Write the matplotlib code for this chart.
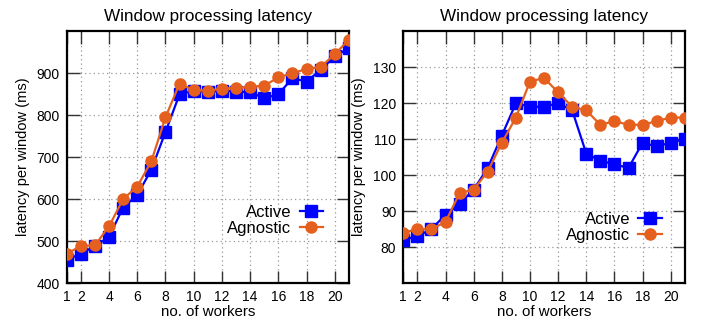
import matplotlib
matplotlib.use("Agg")
import matplotlib.pyplot as plt

plt.rcParams['font.family'] = ['Liberation Sans', 'DejaVu Sans']

workers = list(range(1, 22))
x_ticks = [1, 2, 4, 6, 8, 10, 12, 14, 16, 18, 20]

left_active = [455, 470, 488, 510, 580, 610, 670, 760, 850, 858, 855, 858, 856, 855, 840, 850, 888, 880, 908, 940, 960]
left_agnostic = [470, 488, 490, 535, 600, 630, 690, 795, 875, 860, 858, 863, 865, 868, 870, 890, 900, 910, 915, 945, 980]

right_active = [82, 83, 85, 89, 92, 96, 102, 111, 120, 119, 119, 120, 118, 106, 104, 103, 102, 109, 108, 109, 110]
right_agnostic = [84, 85, 85, 87, 95, 96, 101, 109, 116, 126, 127, 123, 119, 118, 114, 115, 114, 114, 115, 116, 116]

left_yticks = [400, 500, 600, 700, 800, 900]
right_yticks = [80, 90, 100, 110, 120, 130]

title = "Window processing latency"
xlabel = "no. of workers"
ylabel = "latency per window (ms)"

BLUE = "#0000ff"
ORANGE = "#e5601e"

fig = plt.figure(figsize=(7.02, 3.25), dpi=100)
ax1 = fig.add_axes([0.095, 0.129, 0.402, 0.775])
ax2 = fig.add_axes([0.5745, 0.129, 0.401, 0.775])

def style(ax, act, agn, yticks, ylim, leg_xy):
    ax.plot(workers, act, color=BLUE, lw=1.6, marker='s', ms=8.5, label='Active', zorder=3)
    ax.plot(workers, agn, color=ORANGE, lw=1.6, marker='o', ms=8, label='Agnostic', zorder=4)
    ax.set_xlim(1, 21)
    ax.set_ylim(*ylim)
    ax.set_xticks(x_ticks)
    ax.set_yticks(yticks)
    ax.grid(True, color='#999999', linestyle=(0, (1, 2.5)), linewidth=0.9)
    ax.set_axisbelow(True)
    ax.tick_params(direction='in', length=9, width=1, top=True, right=True,
                   labelsize=10, pad=5, color='#333333')
    for s in ax.spines.values():
        s.set_linewidth(1.6)
    ax.set_title(title, fontsize=12.3, pad=7)
    ax.set_xlabel(xlabel, fontsize=10.8, labelpad=1)
    ax.set_ylabel(ylabel, fontsize=10.5, labelpad=5)
    ax.legend(loc='center right', bbox_to_anchor=leg_xy, markerfirst=False,
              frameon=False, fontsize=12, handlelength=1.4, handletextpad=0.5,
              labelspacing=0.05, borderpad=0, borderaxespad=0)

style(ax1, left_active, left_agnostic, left_yticks, (400, 1000), (0.908, 0.25))
style(ax2, right_active, right_agnostic, right_yticks, (70, 140), (0.918, 0.22))

fig.savefig("out.png", dpi=100)
